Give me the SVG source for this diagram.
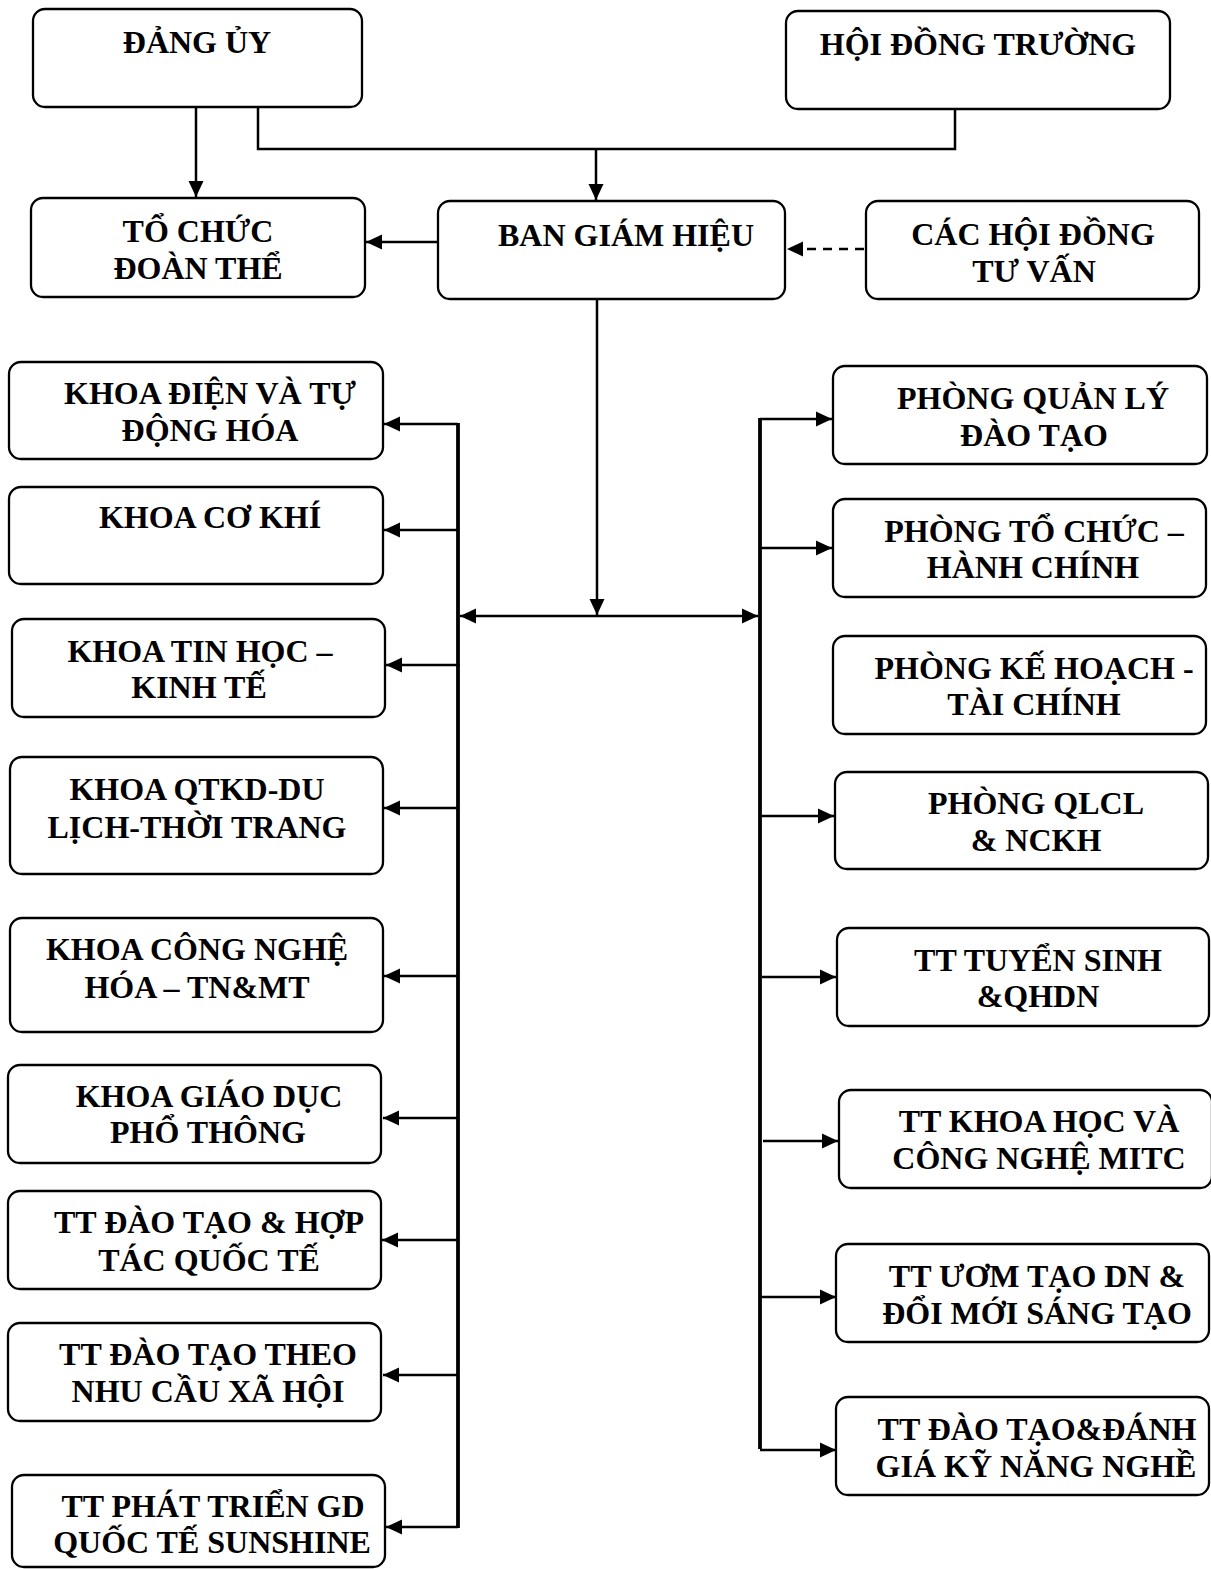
<svg xmlns="http://www.w3.org/2000/svg" width="1211" height="1569" viewBox="0 0 1211 1569">
<style>
.box{fill:#fff;stroke:#000;stroke-width:2.3}
.t{font-family:"Liberation Serif","Times New Roman",serif;font-weight:bold;font-size:32px;text-anchor:middle;fill:#000}
.c{fill:none;stroke:#000;stroke-width:2.5}
.bus{fill:none;stroke:#000;stroke-width:3.8}
.d{fill:none;stroke:#000;stroke-width:2.5;stroke-dasharray:9 7}
</style>
<defs>
<marker id="ah" markerUnits="userSpaceOnUse" markerWidth="18" markerHeight="16" refX="16" refY="8" orient="auto">
<path d="M0,0.5 L16,8 L0,15.5 Z" fill="#000"/>
</marker>
<marker id="ahs" markerUnits="userSpaceOnUse" markerWidth="18" markerHeight="16" refX="16" refY="8" orient="auto-start-reverse">
<path d="M0,0.5 L16,8 L0,15.5 Z" fill="#000"/>
</marker>
</defs>
<rect x="0" y="0" width="1211" height="1569" fill="#fff"/>

<g id="connectors">
<line class="c" x1="196" y1="107" x2="196" y2="197" marker-end="url(#ah)"/>
<path class="c" d="M258,107 V149 H955 V109"/>
<line class="c" x1="596" y1="149" x2="596" y2="200" marker-end="url(#ah)"/>
<line class="c" x1="438" y1="242" x2="366" y2="242" marker-end="url(#ah)"/>
<line class="d" x1="864" y1="249" x2="787" y2="249" marker-end="url(#ah)"/>
<line class="c" x1="597" y1="299" x2="597" y2="615" marker-end="url(#ah)"/>
<line class="c" x1="460" y1="616" x2="758" y2="616" marker-start="url(#ahs)" marker-end="url(#ah)"/>
<line class="bus" x1="458" y1="423" x2="458" y2="1528"/>
<line class="bus" x1="760" y1="418" x2="760" y2="1449"/>
<line class="c" x1="458" y1="424" x2="384" y2="424" marker-end="url(#ah)"/>
<line class="c" x1="458" y1="530" x2="384" y2="530" marker-end="url(#ah)"/>
<line class="c" x1="460" y1="665" x2="386" y2="665" marker-end="url(#ah)"/>
<line class="c" x1="458" y1="808" x2="384" y2="808" marker-end="url(#ah)"/>
<line class="c" x1="458" y1="976" x2="384" y2="976" marker-end="url(#ah)"/>
<line class="c" x1="458" y1="1118" x2="383" y2="1118" marker-end="url(#ah)"/>
<line class="c" x1="458" y1="1240" x2="382" y2="1240" marker-end="url(#ah)"/>
<line class="c" x1="458" y1="1375" x2="383" y2="1375" marker-end="url(#ah)"/>
<line class="c" x1="458" y1="1527" x2="386" y2="1527" marker-end="url(#ah)"/>
<line class="c" x1="760" y1="419" x2="832" y2="419" marker-end="url(#ah)"/>
<line class="c" x1="760" y1="548" x2="832" y2="548" marker-end="url(#ah)"/>
<line class="c" x1="760" y1="816" x2="834" y2="816" marker-end="url(#ah)"/>
<line class="c" x1="762" y1="977" x2="836" y2="977" marker-end="url(#ah)"/>
<line class="c" x1="763" y1="1141" x2="838" y2="1141" marker-end="url(#ah)"/>
<line class="c" x1="760" y1="1297" x2="836" y2="1297" marker-end="url(#ah)"/>
<line class="c" x1="760" y1="1450" x2="836" y2="1450" marker-end="url(#ah)"/>
</g>

<g id="dang-uy"><rect class="box" x="33" y="9" width="329" height="98" rx="12"/><text class="t" x="197" y="53">ĐẢNG ỦY</text></g>
<g id="hoi-dong-truong"><rect class="box" x="786" y="11" width="384" height="98" rx="12"/><text class="t" x="978" y="55">HỘI ĐỒNG TRƯỜNG</text></g>
<g id="to-chuc-doan-the"><rect class="box" x="31" y="198" width="334" height="99" rx="12"/><text class="t" x="198" y="242">TỔ CHỨC</text><text class="t" x="198" y="279">ĐOÀN THỂ</text></g>
<g id="ban-giam-hieu"><rect class="box" x="438" y="201" width="347" height="98" rx="12"/><text class="t" x="626" y="246">BAN GIÁM HIỆU</text></g>
<g id="cac-hoi-dong-tu-van"><rect class="box" x="866" y="201" width="333" height="98" rx="12"/><text class="t" x="1033" y="245">CÁC HỘI ĐỒNG</text><text class="t" x="1034" y="282">TƯ VẤN</text></g>

<g id="khoa-dien"><rect class="box" x="9" y="362" width="374" height="97" rx="12"/><text class="t" x="210" y="404">KHOA ĐIỆN VÀ TỰ</text><text class="t" x="210" y="441">ĐỘNG HÓA</text></g>
<g id="khoa-co-khi"><rect class="box" x="9" y="487" width="374" height="97" rx="12"/><text class="t" x="210" y="528">KHOA CƠ KHÍ</text></g>
<g id="khoa-tin-hoc"><rect class="box" x="12" y="619" width="373" height="98" rx="12"/><text class="t" x="200" y="662">KHOA TIN HỌC –</text><text class="t" x="199" y="698">KINH TẾ</text></g>
<g id="khoa-qtkd"><rect class="box" x="10" y="757" width="373" height="117" rx="12"/><text class="t" x="197" y="800">KHOA QTKD-DU</text><text class="t" x="197" y="838">LỊCH-THỜI TRANG</text></g>
<g id="khoa-cong-nghe-hoa"><rect class="box" x="10" y="918" width="373" height="114" rx="12"/><text class="t" x="197" y="960">KHOA CÔNG NGHỆ</text><text class="t" x="197" y="998">HÓA – TN&amp;MT</text></g>
<g id="khoa-giao-duc"><rect class="box" x="8" y="1065" width="373" height="98" rx="12"/><text class="t" x="209" y="1107">KHOA GIÁO DỤC</text><text class="t" x="208" y="1143">PHỔ THÔNG</text></g>
<g id="tt-hop-tac"><rect class="box" x="8" y="1191" width="373" height="98" rx="12"/><text class="t" x="209" y="1233">TT ĐÀO TẠO &amp; HỢP</text><text class="t" x="209" y="1271">TÁC QUỐC TẾ</text></g>
<g id="tt-nhu-cau"><rect class="box" x="8" y="1323" width="373" height="98" rx="12"/><text class="t" x="208" y="1365">TT ĐÀO TẠO THEO</text><text class="t" x="208" y="1402">NHU CẦU XÃ HỘI</text></g>
<g id="tt-sunshine"><rect class="box" x="12" y="1475" width="373" height="92" rx="12"/><text class="t" x="213" y="1517">TT PHÁT TRIỂN GD</text><text class="t" x="212" y="1553">QUỐC TẾ SUNSHINE</text></g>

<g id="phong-qldt"><rect class="box" x="833" y="366" width="374" height="98" rx="12"/><text class="t" x="1033" y="409">PHÒNG QUẢN LÝ</text><text class="t" x="1034" y="446">ĐÀO TẠO</text></g>
<g id="phong-tchc"><rect class="box" x="833" y="499" width="373" height="98" rx="12"/><text class="t" x="1034" y="542">PHÒNG TỔ CHỨC –</text><text class="t" x="1033" y="578">HÀNH CHÍNH</text></g>
<g id="phong-khtc"><rect class="box" x="833" y="636" width="373" height="98" rx="12"/><text class="t" x="1034" y="679">PHÒNG KẾ HOẠCH -</text><text class="t" x="1034" y="715">TÀI CHÍNH</text></g>
<g id="phong-qlcl"><rect class="box" x="835" y="772" width="373" height="97" rx="12"/><text class="t" x="1036" y="814">PHÒNG QLCL</text><text class="t" x="1036" y="851">&amp; NCKH</text></g>
<g id="tt-tuyen-sinh"><rect class="box" x="837" y="928" width="372" height="98" rx="12"/><text class="t" x="1038" y="971">TT TUYỂN SINH</text><text class="t" x="1038" y="1007">&amp;QHDN</text></g>
<g id="tt-mitc"><rect class="box" x="839" y="1090" width="373" height="98" rx="12"/><text class="t" x="1039" y="1132">TT KHOA HỌC VÀ</text><text class="t" x="1039" y="1169">CÔNG NGHỆ MITC</text></g>
<g id="tt-uom-tao"><rect class="box" x="836" y="1244" width="373" height="98" rx="12"/><text class="t" x="1037" y="1287">TT ƯƠM TẠO DN &amp;</text><text class="t" x="1037" y="1324">ĐỔI MỚI SÁNG TẠO</text></g>
<g id="tt-ky-nang"><rect class="box" x="836" y="1397" width="373" height="98" rx="12"/><text class="t" x="1037" y="1440">TT ĐÀO TẠO&amp;ĐÁNH</text><text class="t" x="1036" y="1477">GIÁ KỸ NĂNG NGHỀ</text></g>
</svg>
